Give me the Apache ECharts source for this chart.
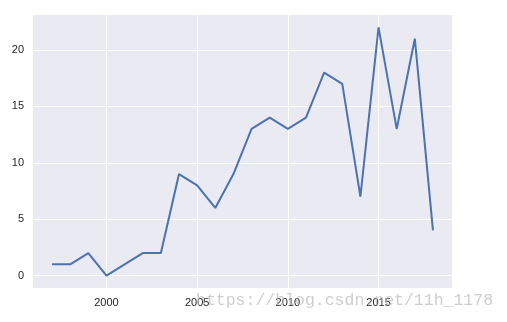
<!DOCTYPE html>
<html>
<head>
<meta charset="utf-8">
<script src="https://cdn.jsdelivr.net/npm/echarts@6/dist/echarts.min.js"></script>
<style>
  html, body { margin: 0; padding: 0; background: #fff; }
  #main { width: 507px; height: 322px; }
</style>
</head>
<body>
<div id="main"></div>
<script>
var years = [1997, 1998, 1999, 2000, 2001, 2002, 2003, 2004, 2005, 2006, 2007,
             2008, 2009, 2010, 2011, 2012, 2013, 2014, 2015, 2016, 2017, 2018];
var counts = [1, 1, 2, 0, 1, 2, 2, 9, 8, 6, 9,
              13, 14, 13, 14, 18, 17, 7, 22, 13, 21, 4];
var xTicks = [2000, 2005, 2010, 2015];
var yTicks = [0, 5, 10, 15, 20];

var chart = echarts.init(document.getElementById('main'));

var points = [];
for (var i = 0; i < years.length; i++) {
  points.push([years[i], counts[i]]);
}

var labelStyle = {
  color: '#262626',
  fontSize: 11,
  fontFamily: 'Arial, "Liberation Sans", sans-serif'
};

chart.setOption({
  animation: false,
  backgroundColor: '#ffffff',
  grid: {
    left: 33, right: 55, top: 15, bottom: 34,
    show: true,
    backgroundColor: '#EAEAF2',
    borderWidth: 0
  },
  xAxis: {
    type: 'value',
    min: 1995.95,
    max: 2019.05,
    axisLine: { show: false },
    axisTick: { show: false, customValues: xTicks },
    axisLabel: Object.assign({
      customValues: xTicks,
      margin: 9,
      formatter: function (v) { return String(v); }
    }, labelStyle),
    splitLine: { show: true, lineStyle: { color: '#ffffff', width: 1 } }
  },
  yAxis: {
    type: 'value',
    min: -1.1,
    max: 23.1,
    axisLine: { show: false },
    axisTick: { show: false, customValues: yTicks },
    axisLabel: Object.assign({ customValues: yTicks, margin: 9 }, labelStyle),
    splitLine: { show: true, lineStyle: { color: '#ffffff', width: 1 } }
  },
  series: [{
    type: 'line',
    data: points,
    showSymbol: false,
    lineStyle: { color: '#4C72B0', width: 2 }
  }],
  graphic: [{
    type: 'text',
    left: 196,
    top: 292,
    z: 100,
    style: {
      text: 'https://blog.csdn.net/11h_1178',
      fill: 'rgba(185,185,185,0.7)',
      font: '16.5px "Liberation Mono", monospace'
    }
  }]
});
</script>
</body>
</html>
